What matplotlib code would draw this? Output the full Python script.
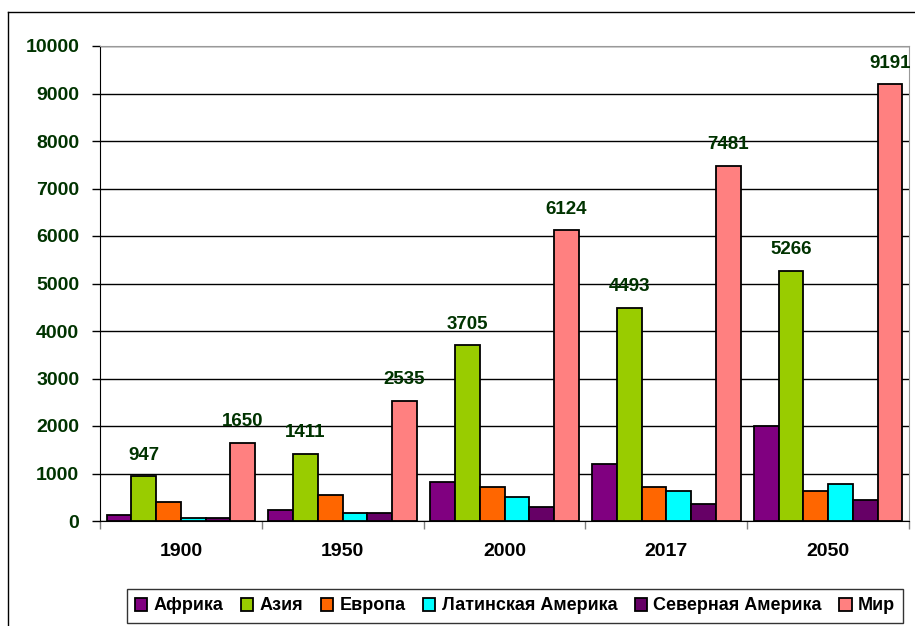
import numpy as np
import matplotlib.pyplot as plt
from matplotlib.lines import Line2D

years = ['1900', '1950', '2000', '2017', '2050']
regions = ['Африка', 'Азия', 'Европа', 'Латинская Америка', 'Северная Америка', 'Мир']
africa = [133, 229, 811, 1193, 2007]
asia = [947, 1411, 3705, 4493, 5266]
europe = [408, 549, 709, 709, 639]
latin_america = [65, 160, 505, 639, 779]
north_america = [70, 165, 302, 365, 435]
world = [1650, 2535, 6124, 7481, 9191]

series = [africa, asia, europe, latin_america, north_america, world]
colors = ['#800080', '#99CC00', '#FF6600', '#00FFFF', '#660066', '#FF8080']
labelled = [1, 5]

plt.rcParams['font.family'] = ['Liberation Sans', 'DejaVu Sans']

fig = plt.figure(figsize=(9.15, 6.26), dpi=100)
ax = fig.add_axes([100 / 915, 1 - 521 / 626, 809 / 915, 475 / 626])

x = np.arange(len(years))
w = 0.153
for i, (vals, col) in enumerate(zip(series, colors)):
    pos = x + (i - 2.5) * w
    ax.bar(pos, vals, width=w, color=col, edgecolor='black', linewidth=1.3,
           label=regions[i], zorder=3)
    if i in labelled:
        for p, v in zip(pos, vals):
            ax.annotate(str(v), (p, v), xytext=(0, 9), textcoords='offset points',
                        ha='center', va='bottom', fontsize=13.5, fontweight='bold',
                        color='#003300', zorder=4)

ax.set_xlim(-0.5, len(years) - 0.5)
ax.set_ylim(0, 10000)
ax.set_yticks(np.arange(0, 10001, 1000))
ax.yaxis.grid(True, color='black', linewidth=1, zorder=0)
ax.set_xticks(x)
ax.set_xticklabels(years)
ax.set_xticks(np.arange(-0.5, len(years)), minor=True)
ax.tick_params(axis='x', which='major', length=0, pad=16, labelsize=14)
ax.tick_params(axis='x', which='minor', length=6, width=1, color='#808080')
ax.tick_params(axis='y', length=6, width=1, pad=9, labelsize=14, labelcolor='#003300')
for lab in ax.get_xticklabels() + ax.get_yticklabels():
    lab.set_fontweight('bold')

ax.spines['left'].set_color('black')
ax.spines['bottom'].set_color('black')
ax.spines['top'].set_color('#999999')
ax.spines['right'].set_color('#999999')

leg = fig.legend(loc='center', bbox_to_anchor=(515 / 915, 1 - 606 / 626), ncol=6,
                 prop={'size': 13, 'weight': 'bold'}, frameon=True, fancybox=False,
                 edgecolor='black', handlelength=0.7, handleheight=0.7,
                 handletextpad=0.35, columnspacing=0.95, borderpad=0.45)
leg.get_frame().set_linewidth(1)

# outer chart frame
fig.add_artist(Line2D([8 / 915, 8 / 915], [0, 1 - 12 / 626], color='black', linewidth=1))
fig.add_artist(Line2D([8 / 915, 1], [1 - 12 / 626, 1 - 12 / 626], color='black', linewidth=1))

fig.savefig('out.png', dpi=100)
